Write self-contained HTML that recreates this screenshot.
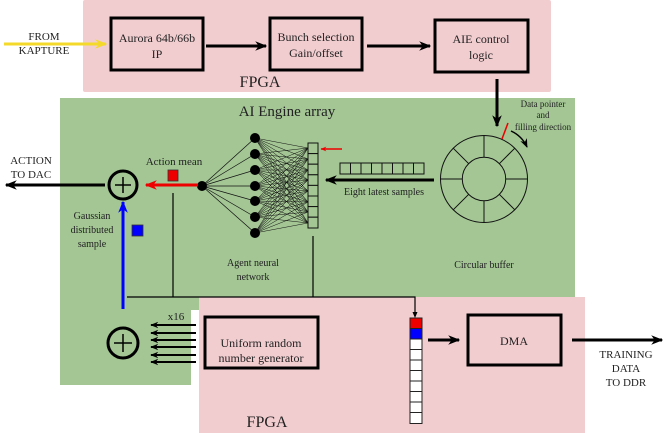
<!DOCTYPE html>
<html><head><meta charset="utf-8"><style>
html,body{margin:0;padding:0;background:#fff}
svg{display:block}
text{font-family:"Liberation Serif",serif;fill:#222}
</style></head><body>
<svg width="664" height="433" viewBox="0 0 664 433" xmlns="http://www.w3.org/2000/svg">
<defs>
<marker id="ah" viewBox="0 0 10 10" refX="9" refY="5" markerWidth="4" markerHeight="4" orient="auto-start-reverse"><path d="M0,1 L10,5 L0,9 L3,5z" fill="#000"/></marker>
<marker id="ahs" viewBox="0 0 10 10" refX="9" refY="5" markerWidth="6" markerHeight="6" orient="auto"><path d="M0,1 L10,5 L0,9 L3,5z" fill="#000"/></marker>
<marker id="ahr" viewBox="0 0 10 10" refX="9" refY="5" markerWidth="4" markerHeight="4" orient="auto"><path d="M0,1 L10,5 L0,9 L3,5z" fill="#e00"/></marker>
<marker id="ahb" viewBox="0 0 10 10" refX="9" refY="5" markerWidth="4" markerHeight="4" orient="auto"><path d="M0,1 L10,5 L0,9 L3,5z" fill="#00f"/></marker>
<marker id="ahy" viewBox="0 0 10 10" refX="9" refY="5" markerWidth="4" markerHeight="4" orient="auto"><path d="M0,1 L10,5 L0,9 L3,5z" fill="#f5d92a"/></marker>
</defs>
<!-- backgrounds -->
<rect x="83" y="0" width="468" height="92" fill="#f2cdd0" rx="2"/>
<path d="M60,98 H575 V310 H191 V385 H60 Z" fill="#a3c694"/>
<rect x="199" y="297" width="386" height="136" fill="#f2cdd0"/>

<!-- top boxes -->
<g fill="none" stroke="#000" stroke-width="3">
<rect x="111" y="18" width="92" height="52"/>
<rect x="270" y="18" width="92" height="52"/>
<rect x="435" y="20" width="93" height="52"/>
<rect x="205" y="317" width="113" height="51"/>
<rect x="468" y="315" width="93" height="50"/>
</g>
<text x="157" y="42" font-size="12" text-anchor="middle">Aurora 64b/66b</text>
<text x="157" y="58" font-size="12" text-anchor="middle">IP</text>
<text x="316" y="41" font-size="12" text-anchor="middle">Bunch selection</text>
<text x="316" y="57" font-size="12" text-anchor="middle">Gain/offset</text>
<text x="481" y="43" font-size="12" text-anchor="middle">AIE control</text>
<text x="481" y="59" font-size="12" text-anchor="middle">logic</text>
<text x="261" y="347" font-size="12" text-anchor="middle">Uniform random</text>
<text x="261" y="362" font-size="12" text-anchor="middle">number generator</text>
<text x="514" y="345" font-size="12" text-anchor="middle">DMA</text>

<line x1="4" y1="44" x2="106" y2="44" stroke="#f5d92a" stroke-width="3" marker-end="url(#ahy)"/>
<text x="44" y="40" font-size="11" text-anchor="middle">FROM</text>
<text x="44" y="54" font-size="11" text-anchor="middle">KAPTURE</text>
<g stroke="#000" stroke-width="3">
<line x1="206" y1="46" x2="266" y2="46" marker-end="url(#ah)"/>
<line x1="367" y1="46" x2="430" y2="46" marker-end="url(#ah)"/>
<line x1="497" y1="79" x2="497" y2="126" marker-end="url(#ah)"/>
<line x1="434" y1="180" x2="326" y2="180" marker-end="url(#ah)"/>
<line x1="105" y1="185" x2="6" y2="185" marker-end="url(#ah)"/>
<line x1="428" y1="340" x2="459" y2="340" marker-end="url(#ah)"/>
<line x1="572" y1="340" x2="662" y2="340" marker-end="url(#ah)"/>
</g>
<text x="260" y="87" font-size="16" text-anchor="middle">FPGA</text>
<text x="267" y="427" font-size="16" text-anchor="middle">FPGA</text>
<text x="287" y="116" font-size="15" text-anchor="middle">AI Engine array</text>

<!-- circular buffer -->
<g stroke="#111" stroke-width="1" fill="none">
<circle cx="484" cy="179" r="43.5"/>
<circle cx="484" cy="179" r="21.7"/>
<line x1="505.7" y1="179" x2="527.5" y2="179"/><line x1="462.3" y1="179" x2="440.5" y2="179"/>
<line x1="484" y1="157.3" x2="484" y2="135.5"/><line x1="484" y1="200.7" x2="484" y2="222.5"/>
<line x1="499.3" y1="163.7" x2="514.8" y2="148.2"/><line x1="468.7" y1="163.7" x2="453.2" y2="148.2"/>
<line x1="499.3" y1="194.3" x2="514.8" y2="209.8"/><line x1="468.7" y1="194.3" x2="453.2" y2="209.8"/>
</g>
<line x1="508" y1="123" x2="502" y2="139" stroke="#e00" stroke-width="1.5"/>
<path d="M511,131 Q522,136 527,147" fill="none" stroke="#000" stroke-width="1.5" marker-end="url(#ahs)"/>
<text x="543" y="107" font-size="9" text-anchor="middle">Data pointer</text>
<text x="543" y="118" font-size="9" text-anchor="middle">and</text>
<text x="543" y="130" font-size="9" text-anchor="middle">filling direction</text>
<text x="484" y="268" font-size="10" text-anchor="middle">Circular buffer</text>

<!-- eight samples -->
<g fill="none" stroke="#111" stroke-width="1">
<rect x="340" y="163" width="10.5" height="11"/><rect x="350.5" y="163" width="10.5" height="11"/><rect x="361" y="163" width="10.5" height="11"/><rect x="371.5" y="163" width="10.5" height="11"/><rect x="382" y="163" width="10.5" height="11"/><rect x="392.5" y="163" width="10.5" height="11"/><rect x="403" y="163" width="10.5" height="11"/><rect x="413.5" y="163" width="10.5" height="11"/>
</g>
<text x="384" y="195" font-size="10" text-anchor="middle">Eight latest samples</text>

<!-- NN -->
<g stroke="#111" stroke-width="0.7" id="nn">
<line x1="202" y1="186" x2="255" y2="138"/><line x1="202" y1="186" x2="255" y2="154"/><line x1="202" y1="186" x2="255" y2="170"/><line x1="202" y1="186" x2="255" y2="186"/><line x1="202" y1="186" x2="255" y2="201"/><line x1="202" y1="186" x2="255" y2="217"/><line x1="202" y1="186" x2="255" y2="233"/>
</g>
<g stroke="#111" stroke-width="0.5">
<path d="
M255,138L308,148 M255,138L308,159 M255,138L308,170 M255,138L308,180 M255,138L308,191 M255,138L308,202 M255,138L308,212 M255,138L308,223
M255,154L308,148 M255,154L308,159 M255,154L308,170 M255,154L308,180 M255,154L308,191 M255,154L308,202 M255,154L308,212 M255,154L308,223
M255,170L308,148 M255,170L308,159 M255,170L308,170 M255,170L308,180 M255,170L308,191 M255,170L308,202 M255,170L308,212 M255,170L308,223
M255,186L308,148 M255,186L308,159 M255,186L308,170 M255,186L308,180 M255,186L308,191 M255,186L308,202 M255,186L308,212 M255,186L308,223
M255,201L308,148 M255,201L308,159 M255,201L308,170 M255,201L308,180 M255,201L308,191 M255,201L308,202 M255,201L308,212 M255,201L308,223
M255,217L308,148 M255,217L308,159 M255,217L308,170 M255,217L308,180 M255,217L308,191 M255,217L308,202 M255,217L308,212 M255,217L308,223
M255,233L308,148 M255,233L308,159 M255,233L308,170 M255,233L308,180 M255,233L308,191 M255,233L308,202 M255,233L308,212 M255,233L308,223"/>
</g>
<g fill="#000">
<circle cx="202" cy="186" r="5"/>
<circle cx="255" cy="138" r="5"/><circle cx="255" cy="154" r="5"/><circle cx="255" cy="170" r="5"/><circle cx="255" cy="186" r="5"/><circle cx="255" cy="201" r="5"/><circle cx="255" cy="217" r="5"/><circle cx="255" cy="233" r="5"/>
</g>
<g fill="#a3c694" stroke="#111" stroke-width="1">
<rect x="308" y="143" width="10" height="10.6"/><rect x="308" y="153.6" width="10" height="10.6"/><rect x="308" y="164.2" width="10" height="10.6"/><rect x="308" y="174.8" width="10" height="10.6"/><rect x="308" y="185.4" width="10" height="10.6"/><rect x="308" y="196" width="10" height="10.6"/><rect x="308" y="206.6" width="10" height="10.6"/><rect x="308" y="217.2" width="10" height="10.8"/>
</g>
<line x1="342" y1="149" x2="321" y2="149" stroke="#e00" stroke-width="1.5" marker-end="url(#ahr)"/>
<text x="253" y="266" font-size="10" text-anchor="middle">Agent neural</text>
<text x="253" y="280" font-size="10" text-anchor="middle">network</text>

<!-- action -->
<line x1="198" y1="185" x2="146" y2="185" stroke="#e00" stroke-width="3" marker-end="url(#ahr)"/>
<rect x="168" y="170" width="10" height="11" fill="#e00" stroke="#333" stroke-width="0.8"/>
<text x="174" y="165" font-size="11" text-anchor="middle">Action mean</text>
<circle cx="123" cy="185" r="14" fill="none" stroke="#000" stroke-width="3"/>
<line x1="115" y1="185" x2="131" y2="185" stroke="#000" stroke-width="1.5"/><line x1="123" y1="177" x2="123" y2="193" stroke="#000" stroke-width="1.5"/>
<text x="31" y="164" font-size="11" text-anchor="middle">ACTION</text>
<text x="31" y="178" font-size="11" text-anchor="middle">TO DAC</text>
<line x1="123" y1="309" x2="123" y2="202" stroke="#00f" stroke-width="3" marker-end="url(#ahb)"/>
<rect x="132" y="225" width="11" height="11" fill="#00f" stroke="#333" stroke-width="0.8"/>
<text x="92" y="219" font-size="10" text-anchor="middle">Gaussian</text>
<text x="92" y="233" font-size="10" text-anchor="middle">distributed</text>
<text x="92" y="247" font-size="10" text-anchor="middle">sample</text>

<!-- bus -->
<g stroke="#000" stroke-width="1.2" fill="none">
<line x1="173" y1="193" x2="173" y2="297"/>
<line x1="313" y1="236" x2="313" y2="297"/>
<path d="M127,297 H415 V316"/>
</g>
<path d="M412.5,312 L415,318 L417.5,312z" fill="#000"/>

<!-- bottom adder -->
<circle cx="123" cy="343" r="15" fill="none" stroke="#000" stroke-width="3"/>
<line x1="114" y1="343" x2="132" y2="343" stroke="#000" stroke-width="1.5"/><line x1="123" y1="334" x2="123" y2="352" stroke="#000" stroke-width="1.5"/>
<text x="176" y="320" font-size="11" text-anchor="middle">x16</text>
<g stroke="#000" stroke-width="2">
<line x1="196" y1="325" x2="151" y2="325" marker-end="url(#ah)"/>
<line x1="196" y1="333" x2="151" y2="333" marker-end="url(#ah)"/>
<line x1="196" y1="340" x2="151" y2="340" marker-end="url(#ah)"/>
<line x1="196" y1="347" x2="151" y2="347" marker-end="url(#ah)"/>
<line x1="196" y1="355" x2="151" y2="355" marker-end="url(#ah)"/>
<line x1="196" y1="362" x2="151" y2="362" marker-end="url(#ah)"/>
</g>

<!-- column -->
<g stroke="#222" stroke-width="1" fill="#fff">
<rect x="410" y="318" width="12" height="10.5" fill="#e00"/>
<rect x="410" y="328.5" width="12" height="10.5" fill="#00f"/>
<rect x="410" y="339" width="12" height="10.5"/><rect x="410" y="349.5" width="12" height="10.5"/><rect x="410" y="360" width="12" height="10.5"/><rect x="410" y="370.5" width="12" height="10.5"/><rect x="410" y="381" width="12" height="10.5"/><rect x="410" y="391.5" width="12" height="10.5"/><rect x="410" y="402" width="12" height="10.5"/><rect x="410" y="412.5" width="12" height="11"/>
</g>
<text x="626" y="358" font-size="11" text-anchor="middle">TRAINING</text>
<text x="626" y="372" font-size="11" text-anchor="middle">DATA</text>
<text x="626" y="386" font-size="11" text-anchor="middle">TO DDR</text>
</svg>
</body></html>
